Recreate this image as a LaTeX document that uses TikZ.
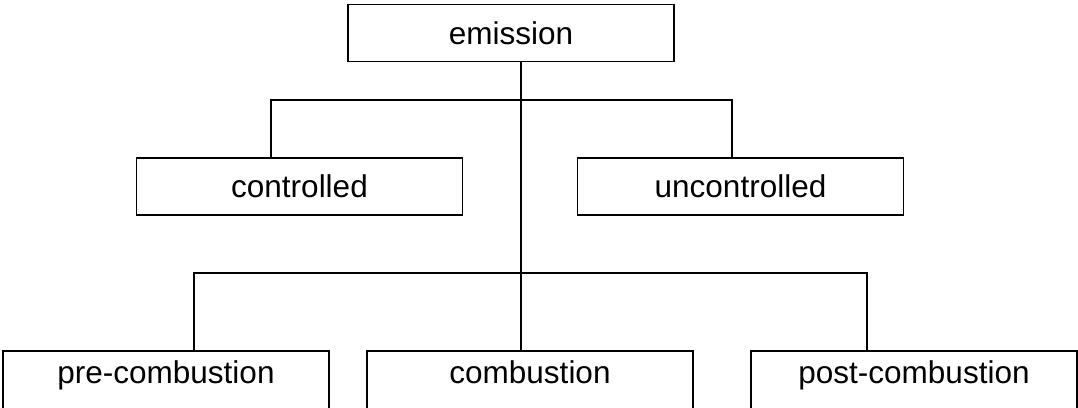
\documentclass[tikz,border=0pt]{standalone}
\usepackage{fontspec}
\setmainfont{Liberation Sans}
\begin{document}
\begin{tikzpicture}[x=1pt,y=-1pt,
  box/.style={draw=black,line width=1.6pt,minimum width=326pt,inner sep=0pt,
    font=\fontsize{31.5}{36}\selectfont},
  topbox/.style={box,minimum height=57pt},
  lowbox/.style={box,anchor=north,text height=33pt,text depth=27pt},
  conn/.style={draw=black,line width=1.6pt}]
\useasboundingbox (0,0) rectangle (1078,407);
\clip (0,0) rectangle (1078,407);
\fill[white] (0,0) rectangle (1078,407);
\node[topbox] (emis) at (511,33) {emission};
\node[topbox] (ctrl) at (299.5,186.5) {controlled};
\node[topbox] (unctrl) at (740.5,186.5) {uncontrolled};
\node[lowbox] (pre) at (166,350) {pre-combustion};
\node[lowbox] (comb) at (530,350) {combustion};
\node[lowbox] (post) at (914,350) {post-combustion};
\coordinate (tr) at (521,100);
\coordinate (b1L) at (271,100);
\coordinate (b1R) at (732,100);
\coordinate (b2L) at (194,273);
\coordinate (b2R) at (867,273);
\draw[conn] (tr |- emis.south) -- (tr |- comb.north);
\draw[conn] (b1L |- ctrl.north) |- (b1R) -- (b1R |- unctrl.north);
\draw[conn] (b2L |- pre.north) |- (b2R) -- (b2R |- post.north);
\end{tikzpicture}
\end{document}
